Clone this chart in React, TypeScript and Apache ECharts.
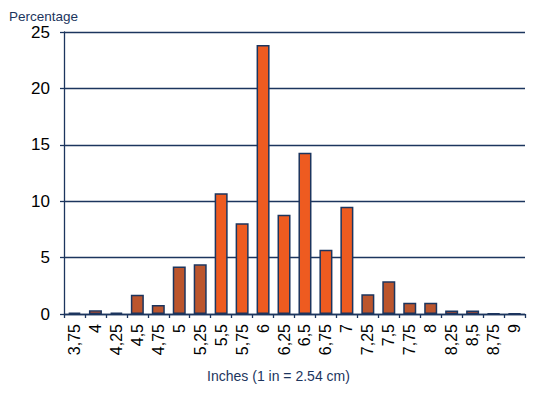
import React, { useEffect, useRef } from "react";
import * as echarts from "echarts";

const categories = ["3,75", "4", "4,25", "4,5", "4,75", "5", "5,25", "5,5", "5,75", "6", "6,25", "6,5", "6,75", "7", "7,25", "7,5", "7,75", "8", "8,25", "8,5", "8,75", "9"];
const percentages = [0.12, 0.33, 0.12, 1.7, 0.8, 4.2, 4.4, 10.7, 8.05, 23.85, 8.8, 14.3, 5.7, 9.5, 1.75, 2.9, 1.0, 1.0, 0.32, 0.32, 0.06, 0.06];
const darkCategories = ["3,75", "4,25", "4,5", "4,75", "5", "5,25", "7,25", "7,5", "7,75", "8", "8,75", "9"];
const yTicks = [0, 5, 10, 15, 20, 25];

const NAVY = "#1c355e";
const ORANGE = "#ee5b20";
const DARK = "#bb552d";
const FONT = "'Liberation Sans', Arial, Helvetica, sans-serif";

export default function App() {
  const ref = useRef<HTMLDivElement>(null);
  useEffect(() => {
    if (!ref.current) return;
    const chart = echarts.init(ref.current, undefined, { renderer: "svg" });
    chart.setOption({
      animation: false,
      title: {
        text: "Percentage",
        left: 4,
        top: 4,
        textStyle: { color: NAVY, fontSize: 13.5, fontWeight: "normal", fontFamily: FONT },
      },
      grid: { left: 64, right: 15, top: 32, bottom: 80, containLabel: false },
      xAxis: {
        type: "category",
        data: categories,
        boundaryGap: true,
        name: "Inches (1 in = 2.54 cm)",
        nameLocation: "middle",
        nameGap: 55,
        nameTextStyle: { color: NAVY, fontSize: 14, fontFamily: FONT, padding: [0, 32, 0, 0] },
        axisLine: { show: true, lineStyle: { color: NAVY, width: 1.3 } },
        axisTick: { show: true, alignWithLabel: false, length: 4, lineStyle: { color: NAVY, width: 1.3 } },
        axisLabel: { rotate: 90, margin: 10, color: "#000", fontSize: 16, fontFamily: FONT, interval: 0 },
        splitLine: { show: false },
      },
      yAxis: {
        type: "value",
        min: yTicks[0],
        max: yTicks[yTicks.length - 1],
        interval: 5,
        axisLine: { show: true, lineStyle: { color: NAVY, width: 1.3 } },
        axisTick: { show: true, length: 4, lineStyle: { color: NAVY, width: 1.3 } },
        axisLabel: { color: "#000", fontSize: 17, fontFamily: FONT, margin: 14 },
        splitLine: { show: true, lineStyle: { color: NAVY, width: 1.3 } },
      },
      series: [
        {
          type: "bar",
          barWidth: 13,
          data: percentages.map((v, i) => ({
            value: v,
            itemStyle: {
              color: darkCategories.includes(categories[i]) ? DARK : ORANGE,
              borderColor: NAVY,
              borderWidth: 1.5,
            },
          })),
        },
      ],
    });
    return () => chart.dispose();
  }, []);
  return <div ref={ref} style={{ width: 540, height: 394, position: "absolute", left: 0, top: 0 }} />;
}
